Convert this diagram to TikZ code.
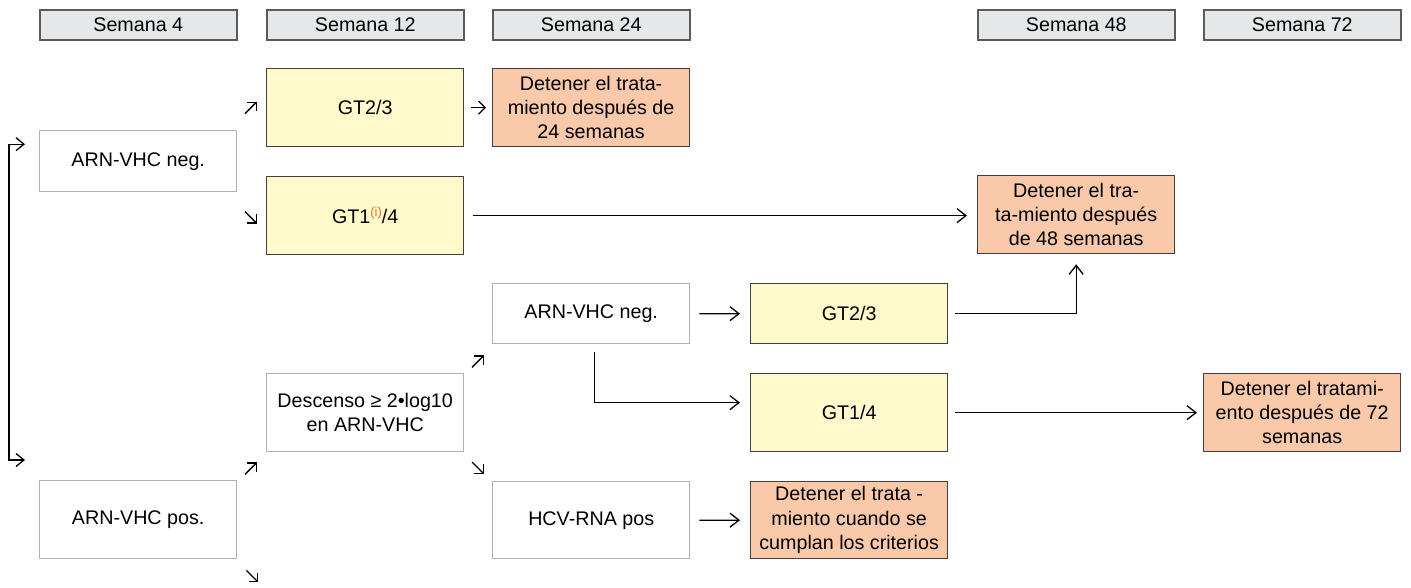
\documentclass[tikz,border=0pt]{standalone}
\usepackage{fontspec}
\setmainfont{Liberation Sans}
\usetikzlibrary{arrows.meta}
\definecolor{hdrfill}{HTML}{E6E7E8}
\definecolor{hdrline}{HTML}{5A5B5D}
\definecolor{yelfill}{HTML}{FFF9CB}
\definecolor{salfill}{HTML}{F9C9AA}
\definecolor{darkline}{HTML}{404040}
\definecolor{lightline}{HTML}{B0B1B4}
\definecolor{notecol}{HTML}{F26B2E}
\begin{document}
\begin{tikzpicture}[x=1pt,y=-1pt,
  font=\fontsize{19.7}{24.3}\selectfont,
  box/.style={rectangle, anchor=north west, minimum width=197pt, inner sep=2pt, align=center},
  hdr/.style={box, minimum height=30pt, fill=hdrfill, draw=hdrline, line width=1.6pt},
  plain/.style={box, draw=lightline, line width=1.4pt, fill=white},
  geno/.style={box, minimum height=78pt, fill=yelfill, draw=darkline, line width=1.3pt},
  stopbox/.style={box, minimum height=78pt, fill=salfill, draw=darkline, line width=1.3pt},
  arr/.style={line width=1.3pt, -{Straight Barb[length=9pt,width=14pt]}},
  tick/.style={line width=1.3pt, -{Straight Barb[length=6.5pt,width=13pt]}}
]
\useasboundingbox (0,0) rectangle (1411,587);

% week headers
\node[hdr] (h4)  at (39,9)   {Semana 4};
\node[hdr] (h12) at (266,9)  {Semana 12};
\node[hdr] (h24) at (492,9)  {Semana 24};
\node[hdr] (h48) at (977,9)  {Semana 48};
\node[hdr] (h72) at (1203,9) {Semana 72};

% week 4
\node[plain, minimum height=61pt] (negA) at (39,130) {ARN-VHC neg.};
\node[plain, minimum height=78pt] (posA) at (39,480) {ARN-VHC pos.};

% week 12
\node[geno] (gt23a) at (266,68) {GT2/3};
\node[geno] (gt14a) at (266,176) {GT1{\fontsize{13}{13}\selectfont\color{notecol}\raisebox{7pt}{(i)}}/4};
\node[plain, minimum height=78pt] (desc) at (266,373) {Descenso ≥ 2•log10\\en ARN-VHC};

% week 24
\node[stopbox] (stop24) at (492,68) {Detener el trata-\\miento después de\\24 semanas};
\node[plain, minimum height=60pt] (negB) at (492,283) {ARN-VHC neg.};
\node[plain, minimum height=77pt] (hcv) at (492,481) {HCV-RNA pos};

% week 36
\node[geno, minimum height=60pt] (gt23b) at (750,283) {GT2/3};
\node[geno] (gt14b) at (750,373) {GT1/4};
\node[stopbox, minimum height=77pt] (stopC) at (750,481) {Detener el trata -\\miento cuando se\\cumplan los criterios};

% weeks 48 and 72
\node[stopbox] (stop48) at (977,175) {Detener el tra-\\ta-miento después\\de 48 semanas};
\node[stopbox] (stop72) at (1203,373) {Detener el tratami-\\ento después de 72\\semanas};

% loop on the left between the two week-4 results
\coordinate (lt) at ([xshift=-14pt,yshift=17pt]negA.west);
\coordinate (lb) at ([xshift=-14pt,yshift=20pt]posA.north west);
\draw[line width=1.3pt, {Straight Barb[length=8pt,width=13pt]}-{Straight Barb[length=8pt,width=13pt]}]
  (lt) -- ++(-16,0) |- (lb);

% small diagonal pointers
\draw[tick] ([xshift=-21pt,yshift=-6pt]gt23a.west) -- ++(12,-12);
\draw[tick] ([xshift=-21pt,yshift=4pt]gt14a.west) -- ++(12,12);
\draw[tick] ([xshift=-21pt,yshift=-22pt]desc.south west) -- ++(12,-12);
\draw[tick] ([xshift=9pt,yshift=-11pt]posA.south east) -- ++(12,12);
\draw[tick] ([xshift=-20pt,yshift=-23pt]negB.south west) -- ++(12,-12);
\draw[tick] ([xshift=-20pt,yshift=19pt]hcv.north west) -- ++(12,12);
\draw[tick] ([xshift=7pt]gt23a.east) -- ([xshift=-6pt]stop24.west);

% main connectors
\draw[arr, shorten <=9pt, shorten >=10pt] (gt14a.east) -- (gt14a.east -| stop48.west);
\draw[arr, shorten <=9pt, shorten >=10pt] (negB) -- (gt23b);
\draw[arr, shorten <=9pt, shorten >=10pt] (hcv) -- (stopC);
\draw[arr] ([xshift=3pt,yshift=-8pt]negB.south) |- ([xshift=-10pt,yshift=10pt]gt14b.west);
\draw[arr] ([xshift=7pt]gt23b.east) -| ([yshift=-10pt]stop48.south);
\draw[arr, shorten <=7pt, shorten >=6pt] (gt14b) -- (stop72);
\end{tikzpicture}
\end{document}
